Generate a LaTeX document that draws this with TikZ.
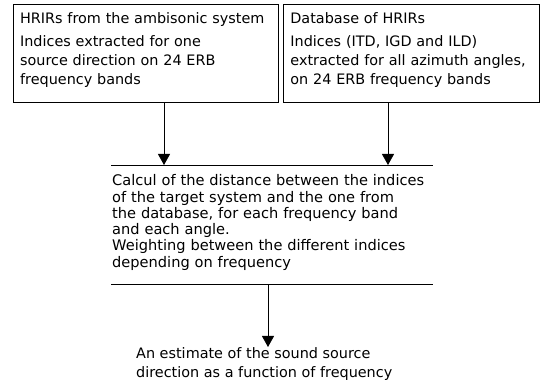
\documentclass[tikz,border=0pt]{standalone}
\usepackage{fontspec}
\setmainfont{DejaVu Sans}
\usetikzlibrary{calc}
\usetikzlibrary{arrows.meta}

\newcommand{\lowstrut}[1]{\rule[-#1]{0pt}{#1}}

\tikzset{
  srcbox/.style={draw, thick, align=left, anchor=north west, inner xsep=7pt,
    minimum height=97.7pt, font=\fontsize{14.4}{19.3}\selectfont},
  txt/.style={align=left, inner sep=0pt, anchor=north west},
  flow/.style={thick, -{Triangle[width=12pt,length=11pt]}}
}

\begin{document}
\begin{tikzpicture}[x=1pt,y=1pt]
\useasboundingbox (0,0) rectangle (541,385);
% the two sources
\node[srcbox, text width=251pt] (amb) at (12.7,381) {HRIRs from the ambisonic system\\[3pt]
Indices extracted for one\\source direction on 24 ERB\\frequency bands\lowstrut{9pt}};
\node[srcbox, text width=242pt] (base) at (283,381) {Database of HRIRs\\[3pt]
Indices (ITD, IGD and ILD)\\extracted for all azimuth angles,\\on 24 ERB frequency bands\lowstrut{9pt}};
% distance computation
\node[txt, text width=320pt, minimum height=119pt, inner xsep=1pt,
  font=\fontsize{14.6}{16.3}\selectfont] (calc) at (111,220) {Calcul of the distance between the indices\\of the target system and the one from\\the database, for each frequency band\\and each angle.\\Weighting between the different indices\\depending on frequency\lowstrut{7.5pt}};
\draw[thick] (calc.north west) -- (calc.north east);
\draw[line width=1.6pt] (calc.south west) -- (calc.south east);
\path (calc.north west) ++(53,0) coordinate (in1);
\path (calc.north west) ++(277,0) coordinate (in2);
\path (calc.south west) ++(157,0) coordinate (out1);
% result
\node[txt, font=\fontsize{14.4}{19}\selectfont] (est) at (136,38) {An estimate of the sound source\\direction as a function of frequency};
\draw[flow] (in1 |- amb.south) -- (in1);
\draw[flow] (in2 |- base.south) -- (in2);
\draw[flow] (out1) -- (out1 |- est.north);
\end{tikzpicture}
\end{document}
